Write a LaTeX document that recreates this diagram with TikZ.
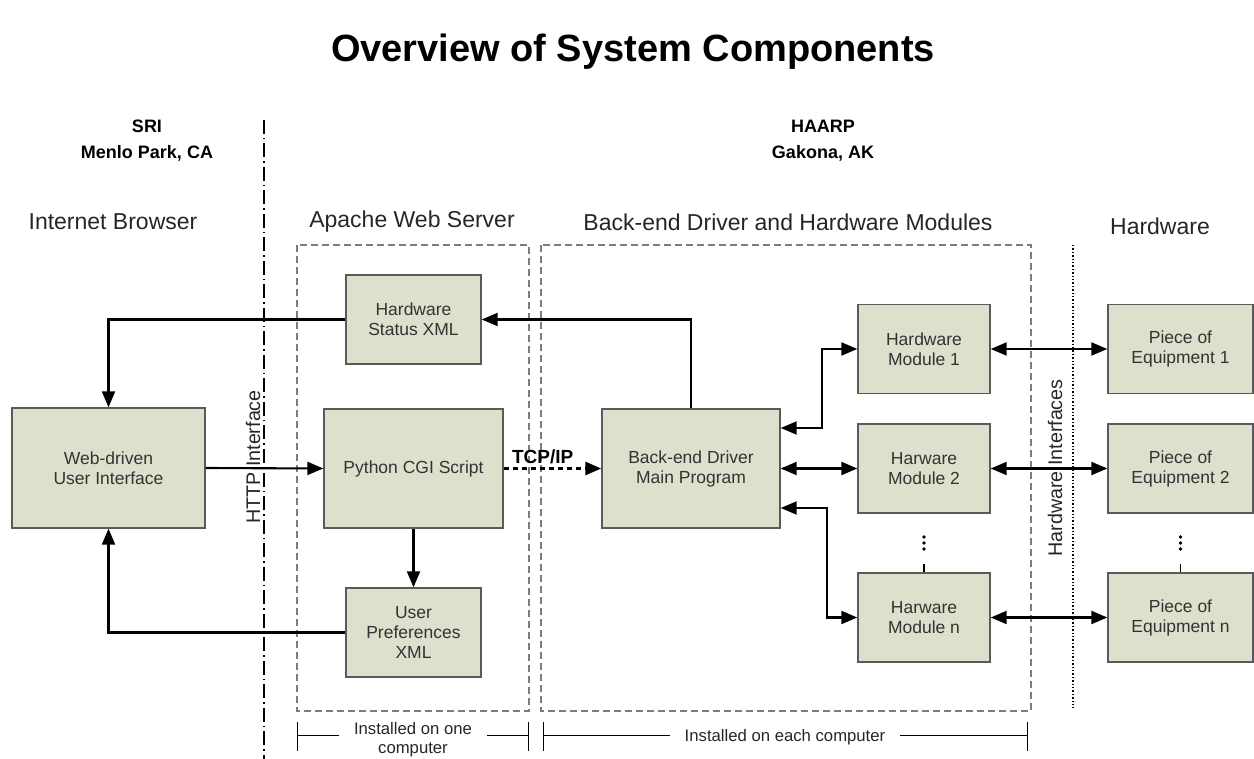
\documentclass[tikz,border=0pt]{standalone}
\usepackage{fontspec}
\setmainfont{Liberation Sans}
\usetikzlibrary{arrows.meta}
\definecolor{boxfill}{RGB}{221,224,204}
\definecolor{boxline}{RGB}{90,90,90}
\definecolor{grpline}{RGB}{125,125,125}
\tikzset{
  comp/.style={draw=boxline, fill=boxfill, line width=1.4pt, align=center, inner sep=0pt,
    font=\fontsize{17.5}{20}\selectfont, text=black!80},
  arr/.style={-{Triangle[length=16pt,width=13pt]}, line width=2.1pt},
  biarr/.style={{Triangle[length=16pt,width=13pt]}-{Triangle[length=16pt,width=13pt]}, line width=2.1pt},
  grp/.style={draw=grpline, line width=1.3pt, dash pattern=on 7pt off 4pt},
  hdr/.style={font=\fontsize{23}{27}\selectfont, text=black!85},
  site/.style={font=\bfseries\fontsize{18}{26}\selectfont, align=center},
  note/.style={font=\fontsize{16.7}{19}\selectfont, align=center, inner xsep=15pt, text=black!85},
  vlabel/.style={rotate=90, font=\fontsize{19.7}{22}\selectfont, text=black!85},
}
\begin{document}
\begin{tikzpicture}[x=1pt, y=-1pt]
  \useasboundingbox (0,0) rectangle (1254,759);
  % headings
  \node[font=\bfseries\fontsize{38}{44}\selectfont] (title) at (633,52) {Overview of System Components};
  \node[site] (sri) at (147,141) {SRI\\Menlo Park, CA};
  \node[site] (haarp) at (823,141) {HAARP\\Gakona, AK};
  \node[hdr] (browser) at (113,222) {Internet Browser};
  \node[hdr] (apache) at (412,222) {Apache Web Server};
  \node[hdr] (backend) at (788,222) {Back-end Driver and Hardware Modules};
  \node[hdr] (hware) at (1160,226) {Hardware};

  % separators and groups
  \draw[line width=1.9pt, dash pattern=on 14pt off 4pt on 1.5pt off 4pt] (264,120) -- (264,759);
  \draw[line width=1.4pt, dotted] (1073,245) -- (1073,708);
  \draw[grp] (297,245) rectangle (529,711);
  \draw[grp] (541,245) rectangle (1031,711);
  \node[vlabel] (http) at (253,457) {HTTP Interface};
  \node[vlabel] (hwif) at (1055,468) {Hardware Interfaces};

  % components
  \node[comp, minimum width=193pt, minimum height=120pt] (ui) at (108.5,468) {Web-driven\\User Interface};
  \node[comp, minimum width=135pt, minimum height=89pt] (hsx) at (413.5,319.5) {Hardware\\Status XML};
  \node[comp, minimum width=179pt, minimum height=119pt] (cgi) at (413.5,468.5) {Python CGI Script};
  \node[comp, minimum width=135pt, minimum height=89pt] (upx) at (413.5,632.5) {User\\Preferences\\XML};
  \node[comp, minimum width=178pt, minimum height=119pt] (drv) at (691,468.5) {Back-end Driver\\Main Program};

  \foreach \n/\y/\hm/\eq in {1/349/Hardware\\Module 1/Piece of\\Equipment 1,
      2/468.5/Harware\\Module 2/Piece of\\Equipment 2,
      n/617.5/Harware\\Module n/Piece of\\Equipment n} {
    \node[comp, minimum width=132pt, minimum height=89pt] (hm\n) at (924,\y) {\hm};
    \node[comp, minimum width=145pt, minimum height=89pt] (eq\n) at (1180.5,\y) {\eq};
    \draw[biarr] (hm\n.east) -- (eq\n.west);
  }
  % vertical ellipses
  \foreach \k in {0,1,2} {
    \fill (924,537+\k*6) circle (1.9pt);
    \fill (1180.5,537+\k*6) circle (1.9pt);
  }
  \draw[line width=1.2pt] (hmn.north) -- ++(0,-8);
  \draw[line width=1.2pt] (eqn.north) -- ++(0,-8);

  % connectors
  \draw[arr] (hsx.west) -| (ui.north);
  \draw[arr] (drv.north) |- (hsx.east);
  \draw[arr] (ui.east) -- (cgi.west);
  \draw[arr, line width=2.8pt, dash pattern=on 5pt off 4pt] (cgi.east) --
    node[pos=0.4, above, inner sep=3pt, font=\bfseries\fontsize{19}{22}\selectfont] (tcp) {TCP/IP} (drv.west);
  \draw[arr] (cgi.south) -- (upx.north);
  \draw[arr] (upx.west) -| (ui.south);
  \draw[biarr] ([yshift=40.5pt]drv.east) -- ++(41,0) |- (hm1.west);
  \draw[biarr] (drv.east) -- (hm2.west);
  \draw[biarr] ([yshift=-39.5pt]drv.east) -- ++(46,0) |- (hmn.west);

  % installation notes
  \node[note] (inst1) at (413,740) {Installed on one\\computer};
  \node[note] (inst2) at (785,737) {Installed on each computer};
  \coordinate (b1l) at (297,735);
  \coordinate (b1r) at (528,735);
  \coordinate (b2l) at (543,735);
  \coordinate (b2r) at (1027,735);
  \foreach \c in {b1l,b1r,b2l,b2r} \draw[line width=0.8pt] ([yshift=13pt]\c) -- ([yshift=-16pt]\c);
  \draw[line width=0.8pt] (b1l) -- (inst1.west |- b1l);
  \draw[line width=0.8pt] (inst1.east |- b1r) -- (b1r);
  \draw[line width=0.8pt] (b2l) -- (inst2.west |- b2l);
  \draw[line width=0.8pt] (inst2.east |- b2r) -- (b2r);
\end{tikzpicture}
\end{document}
